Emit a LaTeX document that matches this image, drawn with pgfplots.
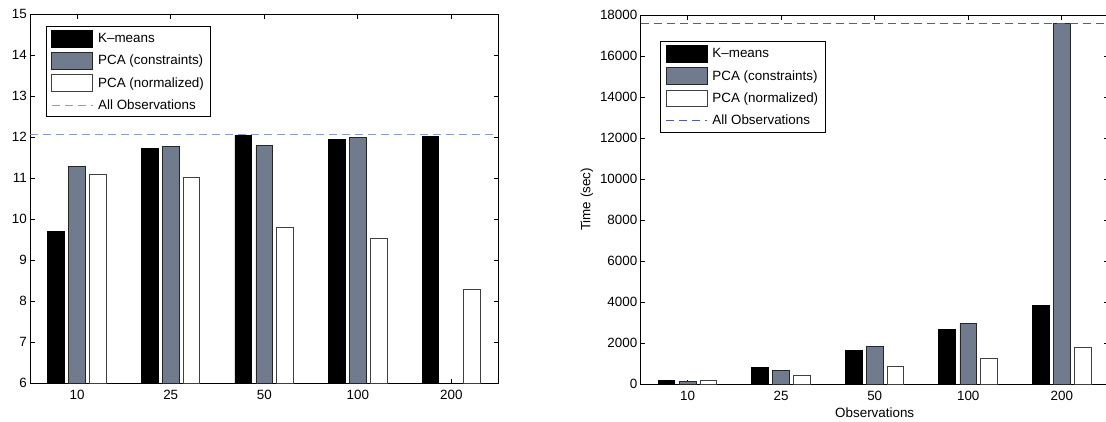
\documentclass[border=0pt]{standalone}
\usepackage{fontspec}
\setmainfont{Liberation Sans}
\usepackage{pgfplots}
\pgfplotsset{compat=1.18}

\definecolor{pcagray}{RGB}{112,124,141}
\definecolor{lightdash}{RGB}{138,155,205}
\definecolor{darkdash}{RGB}{78,94,166}
\newcommand\chartfont{\fontsize{13.4}{16}\selectfont}

\pgfplotsset{
  every axis/.append style={
    scale only axis,
    width=467.8pt, height=369pt,
    xmin=-0.5, xmax=4.5,
    xtick={0,1,2,3,4},
    xticklabels={10,25,50,100,200},
    tick pos=both, tick align=inside,
    major tick length=4.5pt,
    axis line style={line width=1pt},
    every tick/.style={black, line width=0.8pt},
    ticklabel style={font=\chartfont, /pgf/number format/assume math mode=true},
    xticklabel style={yshift=-3.5pt},
    label style={font=\chartfont},
    legend cell align=left,
    legend style={
      font=\chartfont, anchor=north west, draw=black, line width=1pt,
      inner xsep=5pt, inner ysep=3.5pt, row sep=4.8pt,
      /tikz/every odd column/.append style={column sep=3pt},
    },
  },
  barplot/.style={
    ybar, bar width=0.178, line width=0.8pt,
    legend image code/.code={\draw[##1] (0pt,-8.35pt) rectangle (41pt,8.35pt);},
  },
  dashplot/.style={
    line width=1pt, dash pattern=on 8pt off 5pt, no markers,
    legend image code/.code={\path[draw=none, fill=none] (0pt,-8.35pt) rectangle (41pt,8.35pt);
      \draw[##1] (0pt,0pt) -- (41pt,0pt);},
  },
}

\begin{document}
\begin{tikzpicture}
% left: objective value
\begin{axis}[
  at={(30.4pt,38pt)}, anchor=south west,
  ymin=6, ymax=15, ytick={6,7,...,15},
  legend style={at={(0.0327,0.968)}},
]
\addplot[barplot, bar shift=-0.225, fill=black, draw=black] coordinates {
  (0,9.70) (1,11.71) (2,12.04) (3,11.95) (4,12.02)};
\addplot[barplot, bar shift=0, fill=pcagray, draw=black!85] coordinates {
  (0,11.29) (1,11.78) (2,11.79) (3,12.00)};
\addplot[barplot, bar shift=0.222, fill=white, draw=black!75] coordinates {
  (0,11.10) (1,11.01) (2,9.79) (3,9.53) (4,8.29)};
\addplot[dashplot, lightdash] coordinates {(-0.5,12.05) (4.5,12.05)};
\legend{K--means, PCA (constraints), PCA (normalized), All Observations}
\end{axis}

% right: run time (its right edge runs off the page)
\begin{axis}[
  at={(640.8pt,37pt)}, anchor=south west,
  ymin=0, ymax=18000, ytick={0,2000,...,18000},
  scaled y ticks=false,
  yticklabel style={/pgf/number format/.cd, fixed, 1000 sep={}},
  xlabel={Observations}, ylabel={Time (sec)},
  legend style={at={(0.041,0.9295)}},
]
\addplot[barplot, bar shift=-0.225, fill=black, draw=black] coordinates {
  (0,195) (1,812) (2,1657) (3,2681) (4,3834)};
\addplot[barplot, bar shift=0, fill=pcagray, draw=black!85] coordinates {
  (0,114) (1,682) (2,1852) (3,2957) (4,17595)};
\addplot[barplot, bar shift=0.222, fill=white, draw=black!75] coordinates {
  (0,162) (1,422) (2,845) (3,1267) (4,1771)};
\addplot[dashplot, darkdash] coordinates {(-0.5,17600) (4.5,17600)};
\legend{K--means, PCA (constraints), PCA (normalized), All Observations}
\end{axis}

\pgfresetboundingbox
\useasboundingbox (0,0) rectangle (1106pt,421pt);
\end{tikzpicture}
\end{document}
